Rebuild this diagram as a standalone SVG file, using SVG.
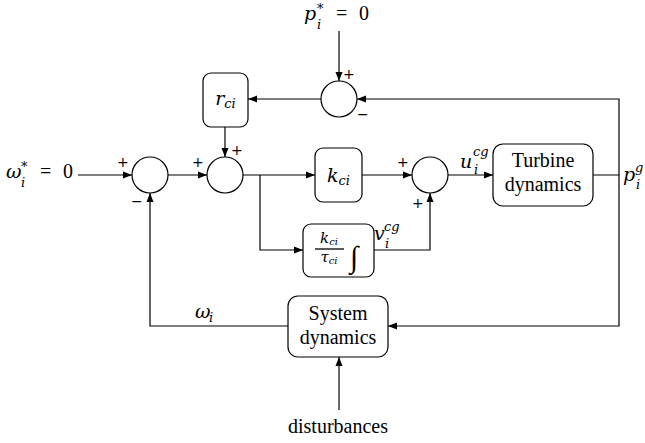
<svg xmlns="http://www.w3.org/2000/svg" width="645" height="443" viewBox="0 0 645 443">
<style>
.ln{fill:none;stroke:#000;stroke-width:1.2}
.bx{fill:#fff;stroke:#000;stroke-width:1.2}
.t{font-family:"Liberation Serif","DejaVu Serif",serif;font-size:20px;fill:#000}
.m{font-family:"DejaVu Serif",serif;font-style:italic;font-size:19px;fill:#000}
.s{font-size:13px}
.sg{font-family:"DejaVu Sans",sans-serif;font-size:14px;fill:#000}
</style>
<defs>
<marker id="ah" markerWidth="10" markerHeight="8" refX="9" refY="4" orient="auto" markerUnits="userSpaceOnUse">
<path d="M0,0.5 L9,4 L0,7.5 Z" fill="#000"/>
</marker>
</defs>
<rect width="645" height="443" fill="#fff"/>
<g id="connectors">
<path class="ln" d="M78,175 H132" marker-end="url(#ah)"/>
<path class="ln" d="M168,175 H207" marker-end="url(#ah)"/>
<path class="ln" d="M339,31 V81" marker-end="url(#ah)"/>
<path class="ln" d="M321,99 H248" marker-end="url(#ah)"/>
<path class="ln" d="M619,175 V99 H357" marker-end="url(#ah)"/>
<path class="ln" d="M225,127 V157" marker-end="url(#ah)"/>
<path class="ln" d="M243,175 H315" marker-end="url(#ah)"/>
<path class="ln" d="M260,175 V250 H303" marker-end="url(#ah)"/>
<path class="ln" d="M362,175 H412" marker-end="url(#ah)"/>
<path class="ln" d="M374,250 H430 V193" marker-end="url(#ah)"/>
<path class="ln" d="M448,175 H493" marker-end="url(#ah)"/>
<path class="ln" d="M593,175 H619 V326 H388" marker-end="url(#ah)"/>
<path class="ln" d="M288,326 H150 V193" marker-end="url(#ah)"/>
<path class="ln" d="M339,410 V357" marker-end="url(#ah)"/>
</g>
<g id="sum1"><circle class="bx" cx="150" cy="175" r="18"/></g>
<g id="sum2"><circle class="bx" cx="225" cy="175" r="18"/></g>
<g id="sum3"><circle class="bx" cx="339" cy="99" r="18"/></g>
<g id="sum4"><circle class="bx" cx="430" cy="175" r="18"/></g>
<g id="rci"><rect class="bx" x="203" y="73" width="45" height="54" rx="8"/>
<text class="m" x="225.5" y="105" text-anchor="middle">r<tspan class="s" dy="3">ci</tspan></text></g>
<g id="kci"><rect class="bx" x="315" y="148" width="47" height="54" rx="8"/>
<text class="m" x="338.5" y="182" text-anchor="middle">k<tspan class="s" dy="3">ci</tspan></text></g>
<g id="integ"><rect class="bx" x="303" y="224" width="71" height="53" rx="8"/>
<text class="m" x="329" y="243" text-anchor="middle" style="font-size:15px">k<tspan style="font-size:10px" dy="2">ci</tspan></text>
<line x1="315" y1="249" x2="344" y2="249" stroke="#000" stroke-width="1.3"/>
<text class="m" x="329" y="262" text-anchor="middle" style="font-size:15px">τ<tspan style="font-size:10px" dy="2">ci</tspan></text>
<text class="t" x="350" y="267" style="font-size:30px;font-style:italic">∫</text></g>
<g id="turbine"><rect class="bx" x="493" y="144" width="100" height="62" rx="10"/>
<text class="t" x="543" y="167" text-anchor="middle">Turbine</text>
<text class="t" x="543" y="191" text-anchor="middle">dynamics</text></g>
<g id="system"><rect class="bx" x="288" y="296" width="100" height="61" rx="10"/>
<text class="t" x="338" y="320" text-anchor="middle">System</text>
<text class="t" x="338" y="344" text-anchor="middle">dynamics</text></g>
<g id="labels">
<text class="m" x="6" y="178">ω</text>
<text class="m s" x="21" y="171">*</text>
<text class="m s" x="21" y="187">i</text>
<text class="t" x="40" y="178">=</text>
<text class="t" x="63" y="178">0</text>
<text class="m" x="304" y="20">p</text>
<text class="m s" x="317" y="13">*</text>
<text class="m s" x="317" y="29">i</text>
<text class="t" x="336" y="20">=</text>
<text class="t" x="359" y="20">0</text>
<text class="m" x="460" y="168">u</text>
<text class="m s" x="473" y="156">cg</text>
<text class="m s" x="474" y="174">i</text>
<text class="m" x="374" y="240">v</text>
<text class="m s" x="384" y="231">cg</text>
<text class="m s" x="385" y="248">i</text>
<text class="m" x="623" y="181">p</text>
<text class="m s" x="635" y="172">g</text>
<text class="m s" x="636" y="189">i</text>
<text class="m" x="195" y="318">ω</text>
<text class="m s" x="209" y="322">i</text>
<text class="t" x="338" y="433" text-anchor="middle">disturbances</text>
</g>
<g id="signs">
<text class="sg" x="117" y="167">+</text>
<text class="sg" x="131" y="206">−</text>
<text class="sg" x="192" y="167">+</text>
<text class="sg" x="231" y="155">+</text>
<text class="sg" x="343" y="79">+</text>
<text class="sg" x="357" y="119">−</text>
<text class="sg" x="397" y="167">+</text>
<text class="sg" x="412" y="208">+</text>
</g>
</svg>
